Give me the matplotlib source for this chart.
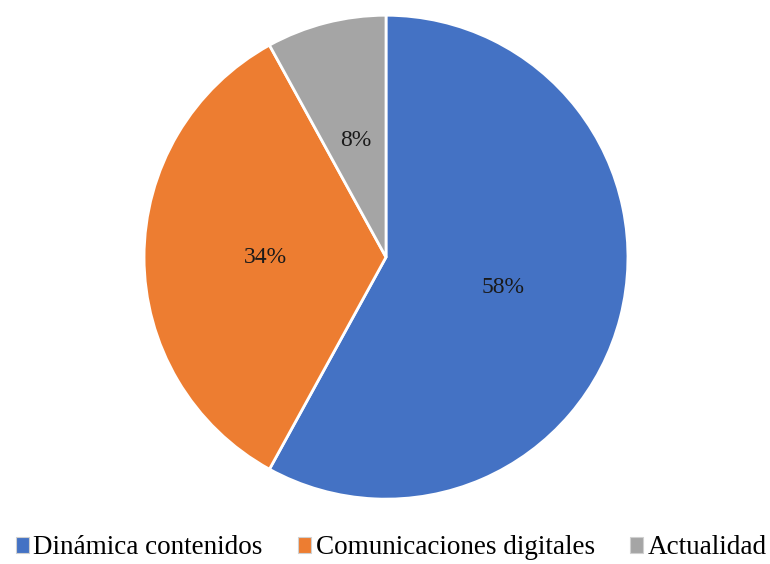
import matplotlib
matplotlib.use("Agg")
import matplotlib.pyplot as plt
from matplotlib.patches import Patch

categories = ["Dinámica contenidos", "Comunicaciones digitales", "Actualidad"]
values = [58, 34, 8]
colors = ["#4472C4", "#ED7D31", "#A5A5A5"]

plt.rcParams['font.family'] = ['Liberation Serif', 'DejaVu Serif']

fig = plt.figure(figsize=(7.70, 5.64), dpi=100)
ax = fig.add_axes([0.187, 0.115, 0.6286, 0.858])
wedges, texts, autotexts = ax.pie(values, colors=colors, startangle=90, counterclock=False,
       autopct=lambda p: f"{p:.0f}%", pctdistance=0.5,
       wedgeprops=dict(edgecolor="white", linewidth=2),
       textprops=dict(fontsize=17, color="#1a1a1a"))
ax.set_aspect("equal")
ax.set_xlim(-1, 1); ax.set_ylim(-1, 1)
ax.axis("off")

handles = [Patch(facecolor=c, edgecolor="#d0d0d0", linewidth=0.8) for c in colors]
fig.legend(handles, categories, loc="lower center", bbox_to_anchor=(0.508, -0.037), ncol=3,
           frameon=False, fontsize=19.5, handlelength=0.5, handleheight=0.5,
           handletextpad=0.15, columnspacing=1.3)
fig.savefig("out.png", dpi=100)
